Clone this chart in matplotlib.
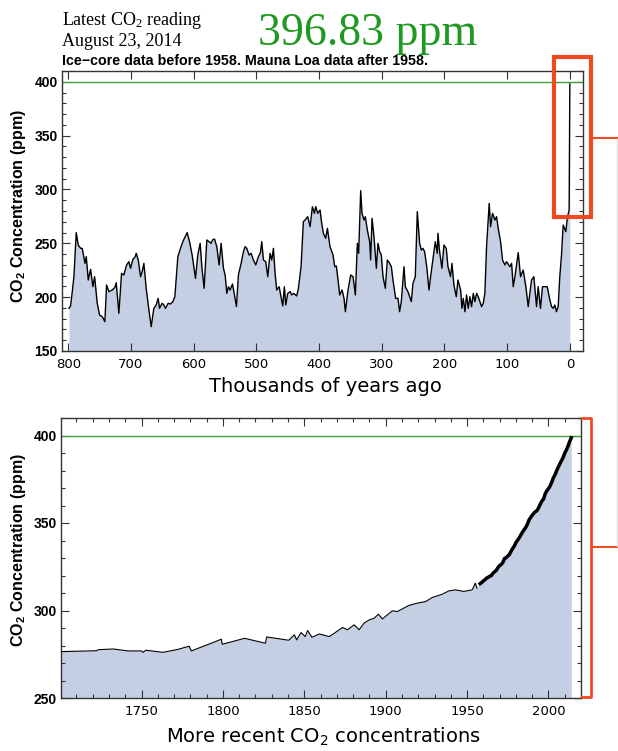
import matplotlib
matplotlib.use('Agg')
import matplotlib.pyplot as plt
from matplotlib.ticker import MultipleLocator
from matplotlib.patches import Rectangle
from matplotlib.lines import Line2D

plt.rcParams['mathtext.default'] = 'regular'

# ---------------- data ----------------
# Ice-core record: age (thousands of years ago) and CO2 (ppm)
ice_age_ka = [798.9, 796.3, 793.6, 791.0, 787.3, 784.1, 780.3, 777.7, 773.4, 771.3,
              768.1, 764.4, 760.7, 758.0, 753.8, 750.1, 745.8, 741.6, 738.9, 735.2,
              729.9, 725.6, 723.5, 719.3, 715.0, 711.3, 707.0, 703.3, 700.7, 696.9,
              693.8, 691.6, 688.4, 684.7, 682.1, 679.4, 675.7, 671.4, 667.7, 663.5,
              659.8, 656.6, 654.5, 650.2, 647.5, 644.9, 640.6, 636.9, 633.2, 630.0,
              625.2, 621.0, 617.3, 610.4, 606.6, 602.4, 597.1, 593.4, 589.6, 587.0,
              583.3, 579.0, 575.3, 572.1, 570.0, 566.8, 563.1, 559.4, 556.2, 552.5,
              549.8, 547.1, 544.5, 541.8, 538.1, 534.9, 531.7, 528.6, 524.3, 520.6,
              517.9, 515.3, 511.6, 508.4, 504.7, 500.9, 496.7, 493.5, 491.4, 488.7,
              485.0, 481.8, 478.1, 475.4, 472.8, 470.1, 467.5, 463.7, 460.6, 457.9,
              455.3, 453.1, 449.9, 446.2, 443.6, 440.4, 435.6, 432.9, 428.7, 425.0,
              422.3, 418.1, 414.3, 410.6, 407.4, 405.3, 402.1, 398.4, 395.8, 393.1,
              389.4, 386.7, 382.5, 377.7, 375.0, 372.4, 369.7, 367.1, 363.3, 360.2,
              358.0, 353.8, 349.5, 345.8, 342.1, 338.9, 336.8, 333.6, 331.5, 328.3,
              326.2, 323.0, 319.3, 317.7, 315.5, 312.4, 308.6, 306.0, 303.3, 300.7,
              298.0, 294.3, 291.1, 287.4, 284.7, 282.1, 277.8, 274.1, 271.5, 268.8,
              264.5, 262.4, 258.2, 252.8, 250.2, 246.5, 243.3, 239.6, 236.9, 234.3,
              231.6, 227.9, 224.7, 221.0, 216.7, 214.6, 211.4, 210.4, 207.7, 204.0,
              200.8, 197.1, 194.4, 190.2, 188.0, 184.9, 181.1, 178.5, 174.2, 172.1,
              170.0, 167.3, 164.7, 162.0, 159.4, 156.7, 154.0, 151.4, 148.7, 146.1,
              143.4, 140.8, 138.1, 135.5, 132.8, 128.6, 126.4, 123.2, 119.5, 116.9,
              114.2, 110.5, 107.3, 103.6, 100.9, 95.6, 92.9, 90.3, 87.6, 82.3,
              78.6, 74.4, 70.1, 66.4, 61.1, 57.4, 53.1, 50.5, 46.8, 43.6,
              36.1, 31.9, 29.2, 26.6, 23.9, 21.3, 18.6, 16.0, 13.3, 10.6,
              6.4, 3.7, 1.1, 0.0]
ice_ppm = [189.6, 191.8, 205.1, 219.0, 259.9, 248.4, 245.3, 245.3, 231.4, 237.6,
           215.9, 225.8, 209.7, 219.0, 194.3, 183.4, 181.9, 177.2, 211.3, 205.1,
           206.6, 209.1, 213.4, 185.0, 222.1, 220.6, 229.9, 232.9, 226.8, 235.1,
           237.0, 240.7, 234.5, 219.0, 223.7, 231.4, 208.2, 188.1, 172.6, 189.6,
           192.7, 198.9, 189.6, 194.3, 192.7, 189.6, 194.3, 193.6, 195.8, 200.4,
           237.6, 245.3, 251.5, 259.9, 251.5, 239.1, 217.4, 239.1, 250.0, 228.3,
           208.2, 253.1, 251.5, 250.0, 253.1, 254.0, 246.9, 229.9, 250.0, 226.8,
           220.6, 203.5, 209.7, 206.6, 212.2, 202.0, 191.2, 220.6, 231.4, 242.2,
           246.9, 245.3, 239.1, 240.7, 234.5, 229.9, 237.6, 241.3, 251.5, 234.5,
           232.9, 219.0, 240.7, 234.5, 245.3, 222.1, 206.6, 209.7, 200.4, 191.8,
           209.7, 192.7, 203.5, 205.1, 202.0, 203.5, 201.1, 208.2, 228.3, 270.1,
           271.6, 274.7, 265.4, 284.0, 277.8, 284.0, 277.8, 280.9, 268.5, 259.3,
           254.6, 263.9, 246.9, 239.1, 228.3, 228.9, 215.9, 202.0, 206.6, 198.9,
           186.5, 206.6, 220.6, 219.0, 202.0, 250.0, 240.7, 298.9, 277.8, 271.6,
           274.7, 262.3, 251.5, 234.5, 273.2, 256.2, 226.8, 250.0, 242.2, 239.1,
           219.0, 208.2, 234.5, 231.4, 228.3, 215.9, 198.9, 198.9, 186.5, 195.8,
           228.3, 209.7, 205.1, 195.8, 212.8, 219.0, 279.4, 250.0, 243.8, 245.3,
           242.2, 226.8, 206.6, 223.7, 242.2, 251.5, 240.7, 259.3, 242.2, 226.8,
           248.4, 245.3, 228.3, 219.0, 231.4, 211.3, 200.4, 215.9, 206.6, 189.6,
           198.9, 186.5, 202.0, 189.6, 200.4, 191.2, 203.5, 195.8, 203.5, 200.4,
           195.8, 191.2, 194.3, 203.5, 246.9, 287.1, 265.4, 277.8, 271.6, 274.7,
           263.9, 251.5, 234.5, 229.9, 232.9, 228.3, 231.4, 209.7, 219.0, 241.3,
           219.0, 225.2, 209.7, 191.2, 215.9, 219.0, 191.2, 209.7, 189.6, 209.7,
           209.7, 197.4, 191.2, 189.6, 192.7, 186.5, 191.2, 219.0, 239.1, 267.0,
           260.8, 274.7, 280.9, 398.0]

# Recent ice-core record (year AD, ppm)
recent_year = [1700.0, 1722.4, 1723.4, 1732.6, 1741.8, 1750.0, 1751.0, 1752.6, 1763.2, 1772.4,
               1779.2, 1780.6, 1793.9, 1799.0, 1799.6, 1813.3, 1826.1, 1826.9, 1834.7, 1840.4,
               1843.9, 1845.3, 1848.0, 1850.6, 1852.0, 1854.7, 1859.2, 1865.3, 1868.4, 1873.5,
               1876.5, 1880.6, 1883.7, 1886.7, 1889.8, 1892.9, 1895.5, 1898.0, 1901.0, 1904.1,
               1907.2, 1910.2, 1914.3, 1919.4, 1924.5, 1928.6, 1934.7, 1938.8, 1942.9, 1948.0,
               1953.1, 1955.1, 1956.1]
recent_ppm = [276.5, 277.0, 277.6, 278.0, 276.9, 276.9, 276.1, 277.3, 276.1, 277.8,
              279.6, 276.9, 281.7, 283.6, 280.7, 284.1, 281.3, 284.9, 283.8, 283.0,
              286.1, 283.2, 287.4, 285.1, 288.6, 284.7, 286.6, 285.1, 287.0, 290.3,
              289.0, 291.8, 289.0, 292.8, 294.6, 295.6, 297.9, 295.2, 297.5, 299.8,
              299.4, 300.9, 302.9, 304.2, 305.1, 307.4, 309.3, 311.2, 311.8, 310.9,
              311.8, 315.6, 312.8]

# Mauna Loa record (year, ppm)
ml_year = [1958, 1959, 1960, 1961, 1962, 1963, 1964, 1965, 1966, 1967,
           1968, 1969, 1970, 1971, 1972, 1973, 1974, 1975, 1976, 1977,
           1978, 1979, 1980, 1981, 1982, 1983, 1984, 1985, 1986, 1987,
           1988, 1989, 1990, 1991, 1992, 1993, 1994, 1995, 1996, 1997,
           1998, 1999, 2000, 2001, 2002, 2003, 2004, 2005, 2006, 2007,
           2008, 2009, 2010, 2011, 2012, 2013, 2014]
ml_ppm = [315.3, 316.0, 316.9, 317.6, 318.5, 319.0, 319.6, 320.0, 321.4, 322.2,
          323.0, 324.6, 325.7, 326.3, 327.5, 329.7, 330.2, 331.1, 332.0, 333.8,
          335.4, 336.8, 338.8, 340.1, 341.5, 343.1, 344.7, 346.1, 347.4, 349.2,
          351.6, 353.1, 354.4, 355.6, 356.5, 357.1, 358.8, 360.8, 362.6, 363.7,
          366.7, 368.4, 369.6, 371.1, 373.3, 375.8, 377.5, 379.8, 381.9, 383.8,
          385.6, 387.4, 389.9, 391.7, 393.9, 396.5, 398.7]

latest_value = 396.83
latest_date = 'August 23, 2014'
ref_level = 400

# ---------------- layout helpers ----------------
W, H = 618, 751
fig = plt.figure(figsize=(W / 100, H / 100), dpi=100)


def fx(px):
    return px / W


def fy(py):
    return 1 - py / H


FILL = '#c4cfe4'
GREEN = '#3f9f3f'
SPINE = '#333333'
RED = '#ef4a22'
SANS_B = 'Liberation Sans'
SERIF = 'Liberation Serif'

ax1 = fig.add_axes([fx(62), fy(351), (583 - 62) / W, (351 - 71) / H])
ax2 = fig.add_axes([fx(61), fy(698), (581 - 61) / W, (698 - 418) / H])

# ---------------- top chart ----------------
ax1.fill_between(ice_age_ka, ice_ppm, 150, color=FILL, lw=0, zorder=1)
ax1.axhline(ref_level, color=GREEN, lw=1.0, zorder=2)
ax1.plot(ice_age_ka, ice_ppm, color='black', lw=1.0, zorder=3)
ax1.set_xlim(810, -21)
ax1.set_ylim(150, 410)
ax1.xaxis.set_major_locator(MultipleLocator(100))
ax1.yaxis.set_major_locator(MultipleLocator(50))
ax1.yaxis.set_minor_locator(MultipleLocator(10))

# ---------------- bottom chart ----------------
all_year = recent_year + ml_year
all_ppm = recent_ppm + ml_ppm
ax2.fill_between(all_year, all_ppm, 250, color=FILL, lw=0, zorder=1)
ax2.axhline(ref_level, color=GREEN, lw=1.0, zorder=2)
ax2.plot(recent_year, recent_ppm, color='black', lw=0.8, zorder=3)
ax2.plot(ml_year, ml_ppm, color='black', lw=2.5, zorder=3)
ax2.set_xlim(1700.5, 2020)
ax2.set_ylim(250, 410)
ax2.xaxis.set_major_locator(MultipleLocator(50))
ax2.xaxis.set_minor_locator(MultipleLocator(10))
ax2.yaxis.set_major_locator(MultipleLocator(50))
ax2.yaxis.set_minor_locator(MultipleLocator(10))

for ax in (ax1, ax2):
    for s in ax.spines.values():
        s.set_color(SPINE)
        s.set_linewidth(1.0)
    ax.tick_params(which='both', direction='in', top=True, right=True,
                   color=SPINE, width=0.8)
    ax.tick_params(which='major', length=6)
    ax.tick_params(which='minor', length=3)
    ax.tick_params(axis='x', labelsize=9.5, pad=5)
    ax.tick_params(axis='y', labelsize=10, pad=3)
    for lab in ax.get_yticklabels():
        lab.set_fontfamily(SANS_B)
        lab.set_fontweight('bold')

# axis labels
ylab = r'CO$_2$ Concentration (ppm)'
fig.text(fx(19), fy(206), ylab, rotation=90, ha='center', va='center',
         family=SANS_B, fontweight='bold', fontsize=11.5)
fig.text(fx(19), fy(550), ylab, rotation=90, ha='center', va='center',
         family=SANS_B, fontweight='bold', fontsize=11.5)
fig.text(fx(325), fy(386), 'Thousands of years ago', ha='center', va='center',
         family='DejaVu Sans', fontsize=14)
fig.text(fx(323), fy(737), r'More recent CO$_2$ concentrations', ha='center', va='center',
         family='DejaVu Sans', fontsize=14)

# header texts
fig.text(fx(62), fy(25), r'Latest CO$_2$ reading', ha='left', va='baseline',
         family=SERIF, fontsize=13)
fig.text(fx(62), fy(46), latest_date, ha='left', va='baseline',
         family=SERIF, fontsize=13)
fig.text(fx(258), fy(45), f'{latest_value:.2f} ppm', ha='left', va='baseline',
         family=SERIF, fontsize=33, color='#1f991f')
fig.text(fx(62), fy(65), 'Ice\u2212core data before 1958. Mauna Loa data after 1958.',
         ha='left', va='baseline', family=SANS_B, fontweight='bold', fontsize=10.3)

# red annotations (figure-pixel positions)
fig.add_artist(Rectangle((fx(554), fy(217)), (591 - 554) / W, (217 - 57) / H,
                         transform=fig.transFigure, fill=False, ec=RED, lw=3))
fig.add_artist(Line2D([fx(593), fx(618)], [fy(138), fy(138)],
                      transform=fig.transFigure, color=RED, lw=1.5))
fig.add_artist(Line2D([fx(582), fx(591), fx(591), fx(582)],
                      [fy(418), fy(418), fy(697), fy(697)],
                      transform=fig.transFigure, color=RED, lw=2))
fig.add_artist(Line2D([fx(591), fx(618)], [fy(547), fy(547)],
                      transform=fig.transFigure, color=RED, lw=1.5))
fig.add_artist(Line2D([fx(616.5), fx(616.5)], [fy(139), fy(546)],
                      transform=fig.transFigure, color='#e4e4e4', lw=1))

fig.savefig('out.png', dpi=100)
